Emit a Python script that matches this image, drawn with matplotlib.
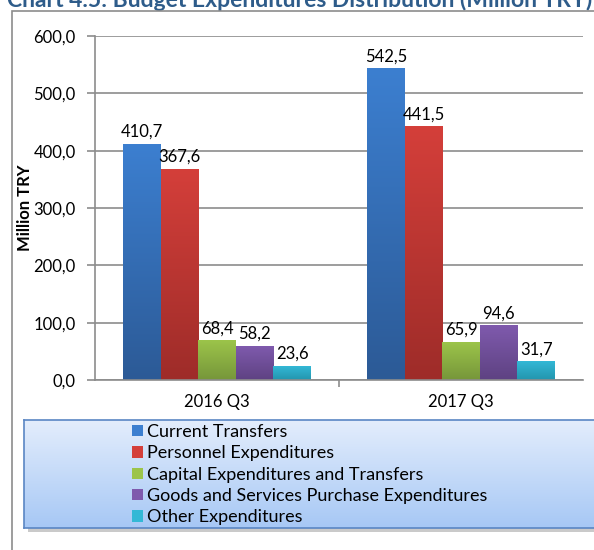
import matplotlib.pyplot as plt
import numpy as np
from matplotlib.patches import Rectangle, Patch
from matplotlib.colors import LinearSegmentedColormap, to_rgb

plt.rcParams['font.family'] = ['Lato', 'DejaVu Sans']

periods = ['2016 Q3', '2017 Q3']
series = ['Current Transfers', 'Personnel Expenditures', 'Capital Expenditures and Transfers',
          'Goods and Services Purchase Expenditures', 'Other Expenditures']
values = {
    'Current Transfers': [410.7, 542.5],
    'Personnel Expenditures': [367.6, 441.5],
    'Capital Expenditures and Transfers': [68.4, 65.9],
    'Goods and Services Purchase Expenditures': [58.2, 94.6],
    'Other Expenditures': [23.6, 31.7],
}
# (top colour, bottom colour) of each bar gradient
colors = [('#3c7fd0', '#2c5a96'), ('#d43f3a', '#9e2c29'), ('#9cc44a', '#76963a'),
          ('#7f5aad', '#5e4282'), ('#33b8d6', '#2395ad')]

fig = plt.figure(figsize=(5.94, 5.5), dpi=100)

# outer chart frame
fig.patches.append(Rectangle((12 / 594, -0.1), 1.0, (550 - 11) / 550 + 0.1, transform=fig.transFigure,
                             fill=False, edgecolor='#8c8c8c', linewidth=1.2, zorder=5))
fig.text(0.505, 1 - 7 / 550, 'Chart 4.5: Budget Expenditures Distribution (Million TRY)', ha='center',
         va='baseline', fontsize=16.5, fontweight='bold', color='#2e5c8a')

ax = fig.add_axes([95 / 594, 170 / 550, 488 / 594, 344 / 550])
x = np.arange(len(periods))
width = 0.154
for i, name in enumerate(series):
    top, bottom = colors[i]
    cmap = LinearSegmentedColormap.from_list('g', [to_rgb(bottom), to_rgb(top)])
    grad = np.linspace(0, 1, 128).reshape(-1, 1)
    bars = ax.bar(x + (i - 2) * width, values[name], width, color='none', zorder=2)
    for b in bars:
        bx, by, bw, bh = b.get_x(), b.get_y(), b.get_width(), b.get_height()
        ax.imshow(grad, cmap=cmap, aspect='auto', origin='lower', extent=(bx, bx + bw, by, by + bh), zorder=2)
        ax.text(bx + bw / 2, bh + 8, f'{bh:.1f}'.replace('.', ','), ha='center', va='bottom', fontsize=12)

ax.set_xlim(-0.5, 1.5)
ax.set_ylim(0, 600)
ax.set_yticks(np.arange(0, 601, 100))
ax.set_yticklabels([f'{v:.1f}'.replace('.', ',') for v in np.arange(0, 601, 100)], fontsize=12)
ax.set_xticks(x)
ax.set_xticklabels(periods, fontsize=12)
ax.tick_params(axis='x', length=0, pad=10)
ax.set_xticks([0.5], minor=True)
ax.tick_params(axis='x', which='minor', length=5, color='#8c8c8c', width=1.2)
ax.tick_params(axis='y', length=6, color='#8c8c8c', width=1.2, pad=8)
ax.grid(axis='y', color='#8c8c8c', linewidth=1.2, zorder=0)
ax.set_axisbelow(True)
for s in ['top', 'right']:
    ax.spines[s].set_visible(False)
for s in ['left', 'bottom']:
    ax.spines[s].set_color('#8c8c8c')
    ax.spines[s].set_linewidth(1.2)
ax.set_ylabel('Million TRY', fontsize=12, fontweight='bold', labelpad=0)

# legend box with gradient and shadow
lx0, ly0, lx1, ly1 = 24 / 594, (550 - 528) / 550, 1.02, (550 - 420) / 550
shadow_ax = fig.add_axes([lx0 + 0.006, ly0 - 0.008, lx1 - lx0, ly1 - ly0], zorder=0)
shadow_ax.axis('off')
shadow_ax.add_patch(Rectangle((0, 0), 1, 1, transform=shadow_ax.transAxes, facecolor='#b4b4b4',
                              edgecolor='none', alpha=0.7))
lax = fig.add_axes([lx0, ly0, lx1 - lx0, ly1 - ly0], zorder=1)
lcmap = LinearSegmentedColormap.from_list('l', ['#a7c8f5', '#e3edfc'])
lax.imshow(np.linspace(0, 1, 64).reshape(-1, 1), cmap=lcmap, aspect='auto', origin='lower',
           extent=(0, 1, 0, 1))
lax.set_xlim(0, 1)
lax.set_ylim(0, 1)
lax.set_xticks([])
lax.set_yticks([])
for s in lax.spines.values():
    s.set_color('#5a86c4')
    s.set_linewidth(1.2)
handles = [Patch(facecolor=c[0], edgecolor='none') for c in colors]
leg = lax.legend(handles, series, loc='upper left', bbox_to_anchor=(0.186, 0.965), frameon=False,
                 fontsize=13, handlelength=0.6, handleheight=0.6, handletextpad=0.2, labelspacing=0.3,
                 borderaxespad=0, borderpad=0)

fig.savefig('out.png', dpi=100)
